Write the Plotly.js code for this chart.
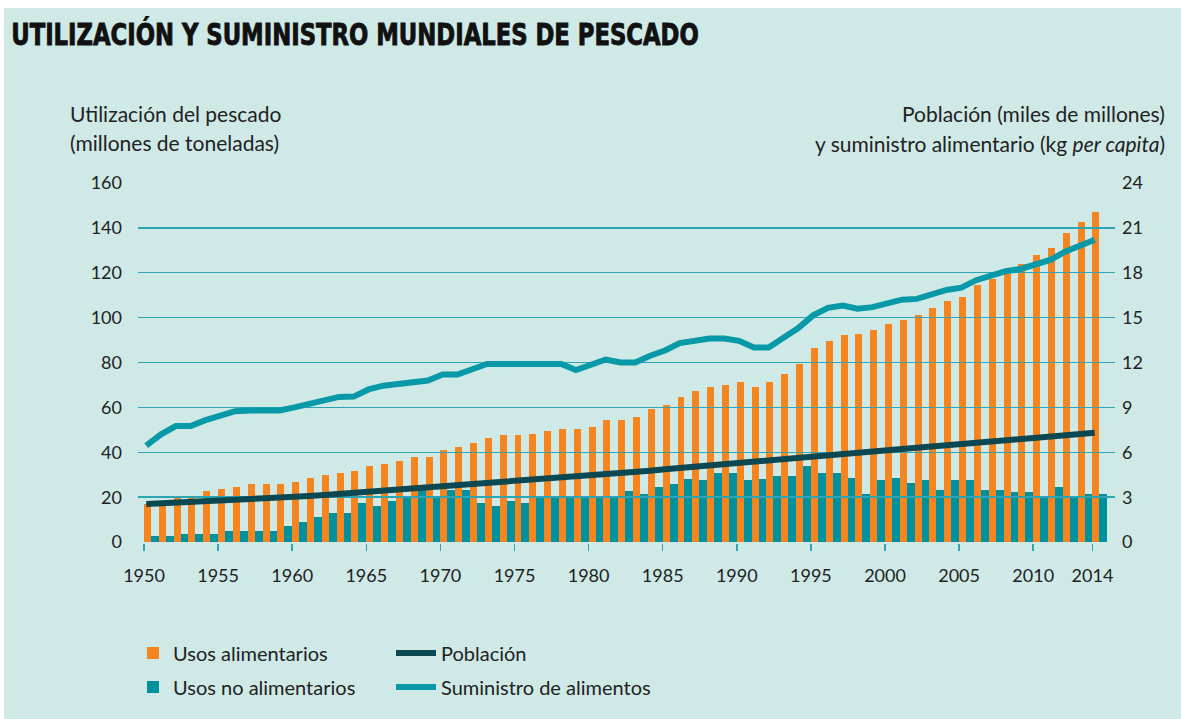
<!DOCTYPE html>
<html><head><meta charset="utf-8">
<script src="https://cdn.plot.ly/plotly-3.0.1.min.js"></script>
<style>
html,body{margin:0;padding:0;background:#ffffff;width:1181px;height:719px;overflow:hidden}
#chart{position:absolute;left:4px;top:8px;width:1177px;height:711px}
</style></head><body><div id="chart"></div><script>
const years=[1950,1951,1952,1953,1954,1955,1956,1957,1958,1959,1960,1961,1962,1963,1964,1965,1966,1967,1968,1969,1970,1971,1972,1973,1974,1975,1976,1977,1978,1979,1980,1981,1982,1983,1984,1985,1986,1987,1988,1989,1990,1991,1992,1993,1994,1995,1996,1997,1998,1999,2000,2001,2002,2003,2004,2005,2006,2007,2008,2009,2010,2011,2012,2013,2014];
// Usos alimentarios (millones de toneladas)
const foodUse=[17.0,17.0,20.2,20.2,22.9,23.5,24.6,25.8,25.8,25.8,26.7,28.5,29.7,30.9,31.6,34.1,34.9,36.0,37.9,37.9,41.1,42.3,44.3,46.3,47.6,47.6,48.1,49.5,50.6,50.6,51.3,54.6,54.6,55.9,59.1,61.1,64.8,67.3,69.3,69.9,71.2,69.3,71.2,75.0,79.3,86.4,89.6,92.1,92.8,94.5,97.2,99.1,101.1,104.3,107.4,109.4,114.5,117.4,119.6,124.0,127.7,130.9,137.5,142.4,146.9];
// Usos no alimentarios (millones de toneladas)
const nonFoodUse=[2.8,2.8,3.6,3.6,3.6,4.8,4.8,4.8,4.8,7.0,8.9,11.2,13.1,13.0,17.6,16.2,18.1,20.6,23.2,20.6,23.2,23.2,17.4,16.2,18.1,17.4,20.6,19.6,20.6,20.6,20.6,20.6,22.6,21.4,24.6,25.8,28.3,27.7,30.9,30.9,27.7,28.3,29.6,29.6,34.1,30.9,30.8,28.4,21.4,27.8,28.4,26.5,27.8,23.3,27.8,27.8,23.3,23.3,22.5,22.5,20.6,24.6,20.6,21.4,21.4];
// Población (miles de millones)
const population=[2.54,2.58,2.63,2.68,2.73,2.77,2.82,2.88,2.94,2.99,3.03,3.08,3.14,3.21,3.28,3.34,3.41,3.48,3.55,3.62,3.70,3.78,3.85,3.92,4.00,4.07,4.14,4.21,4.28,4.36,4.44,4.52,4.61,4.69,4.77,4.86,4.95,5.05,5.14,5.24,5.33,5.42,5.50,5.59,5.67,5.75,5.83,5.91,5.99,6.07,6.14,6.22,6.30,6.38,6.46,6.54,6.62,6.70,6.79,6.87,6.96,7.04,7.13,7.21,7.30];
// Suministro de alimentos (kg per capita)
const foodSupply=[6.45,7.2,7.75,7.75,8.15,8.5,8.75,8.8,8.8,8.8,9.0,9.25,9.4,9.7,9.72,10.2,10.45,10.6,10.75,10.8,11.2,11.2,11.55,11.9,11.9,11.9,11.9,11.9,11.9,11.5,11.9,12.2,12.0,12.0,12.45,12.8,13.3,13.45,13.6,13.6,13.45,13.0,13.0,13.65,14.3,15.15,15.65,15.8,15.6,15.7,15.9,16.2,16.25,16.55,16.85,17.0,17.5,17.8,18.1,18.25,18.6,18.85,19.4,19.85,20.2];
const xTickVals=[1950,1955,1960,1965,1970,1975,1980,1985,1990,1995,2000,2005,2010,2014];
const xTickText=['1950','1955','1960','1965','1970','1975','1980','1985','1990','1995','2000','2005','2010','2014'];
const leftTicks=[0,20,40,60,80,100,120,140,160];
const rightTicks=[0,3,6,9,12,15,18,21,24];

const L=134,T=174,R=66,B=170,W=1177-L-R,H=711-T-B;
const toPX=px=>(px-4-L)/W;
const toPY=py=>1-(py-8-T)/H;

const FONT='Lato, "Noto Sans", sans-serif';
const TXT='#222222';
const GRID='#2ea5b4';
const XR=[1949.595,2015.52];
const LSHIFT=0.15;

const traces=[
 {type:'bar',x:years,y:nonFoodUse,offset:0.47,width:0.53,marker:{color:'#00919f',line:{width:0}},
  name:'Usos no alimentarios',legend:'legend',legendgroup:'b',legendrank:2,xaxis:'x',yaxis:'y',hoverinfo:'x+y'},
 {type:'bar',x:years,y:foodUse,offset:0,width:0.47,marker:{color:'#f6851f',line:{width:0}},
  name:'Usos alimentarios',legend:'legend',legendgroup:'a',legendrank:1,xaxis:'x',yaxis:'y',hoverinfo:'x+y'},
 {type:'scatter',mode:'lines',x:years,y:population,line:{color:'#0c4852',width:6},
  name:'Población',legend:'legend2',legendgroup:'c',legendrank:1,xaxis:'x2',yaxis:'y2'},
 {type:'scatter',mode:'lines',x:years,y:foodSupply,line:{color:'#0799a8',width:6},
  name:'Suministro de alimentos',legend:'legend2',legendgroup:'d',legendrank:2,xaxis:'x2',yaxis:'y2'}
];

const layout={
 width:1177,height:711,
 margin:{l:L,r:R,t:T,b:B,pad:0},
 paper_bgcolor:'#cfe9e7',plot_bgcolor:'rgba(0,0,0,0)',
 font:{family:FONT,size:20,color:TXT},
 barmode:'overlay',bargap:0,
 showlegend:true,
 xaxis:{domain:[0,1],anchor:'y',range:XR,tickmode:'array',tickvals:xTickVals,ticktext:xTickText,
   ticks:'outside',ticklen:7,tickwidth:1.5,tickcolor:GRID,showgrid:false,zeroline:false,showline:false,
   tickfont:{size:18,color:TXT},ticklabelstandoff:9,fixedrange:true},
 yaxis:{domain:[0,1],anchor:'x',range:[-0.4,160.4],tickmode:'array',tickvals:leftTicks,
   showgrid:false,zeroline:false,showline:false,ticks:'',tickfont:{size:18,color:TXT},ticklabelstandoff:15},
 xaxis2:{domain:[0,1],anchor:'y2',range:[XR[0]-LSHIFT,XR[1]-LSHIFT],visible:false},
 yaxis2:{domain:[0,1],anchor:'x2',side:'right',range:[-0.06,24.06],tickmode:'array',tickvals:rightTicks,
   showgrid:true,gridcolor:GRID,gridwidth:1.5,zeroline:false,showline:false,ticks:'',
   tickfont:{size:18,color:TXT},ticklabelstandoff:6},
 legend:{x:toPX(133),y:toPY(641),xanchor:'left',yanchor:'top',bgcolor:'rgba(0,0,0,0)',
   font:{size:20,color:TXT},traceorder:'grouped',tracegroupgap:5,itemwidth:30,orientation:'v'},
 legend2:{x:toPX(391),y:toPY(641),xanchor:'left',yanchor:'top',bgcolor:'rgba(0,0,0,0)',
   font:{size:20,color:TXT},traceorder:'grouped',tracegroupgap:5,itemwidth:40,orientation:'v'},
 annotations:[
  {text:'<b>UTILIZACIÓN Y SUMINISTRO MUNDIALES DE PESCADO</b>',xref:'paper',yref:'paper',x:toPX(9),y:toPY(32),
   xanchor:'left',yanchor:'middle',showarrow:false,font:{family:'"DejaVu Sans Condensed", "Liberation Sans Narrow", sans-serif',size:31,color:'#111111'}},
  {text:'Utilización del pescado',xref:'paper',yref:'paper',x:toPX(68),y:toPY(112),xanchor:'left',yanchor:'middle',showarrow:false,font:{size:21,color:TXT}},
  {text:'(millones de toneladas)',xref:'paper',yref:'paper',x:toPX(68),y:toPY(142),xanchor:'left',yanchor:'middle',showarrow:false,font:{size:21,color:TXT}},
  {text:'Población (miles de millones)',xref:'paper',yref:'paper',x:toPX(1167),y:toPY(112),xanchor:'right',yanchor:'middle',showarrow:false,font:{size:21,color:TXT}},
  {text:'y suministro alimentario (kg <i>per capita</i>)',xref:'paper',yref:'paper',x:toPX(1167),y:toPY(143),xanchor:'right',yanchor:'middle',showarrow:false,font:{size:21,color:TXT}}
 ]
};
Plotly.newPlot('chart',traces,layout,{displayModeBar:false,staticPlot:true}).then(()=>{
  const ann=document.querySelectorAll('#chart .annotation')[0];
  if(!ann) return;
  const txt=ann.querySelector('text');
  if(!txt) return;
  txt.style.stroke='#111111';
  txt.style.strokeWidth='0.9px';
  const bb=txt.getBBox();
  const target=688;
  if(bb.width>target){
    const s=target/bb.width;
    txt.setAttribute('transform','translate('+bb.x+',0) scale('+s+',1) translate('+(-bb.x)+',0)');
  }
});
</script></body></html>
